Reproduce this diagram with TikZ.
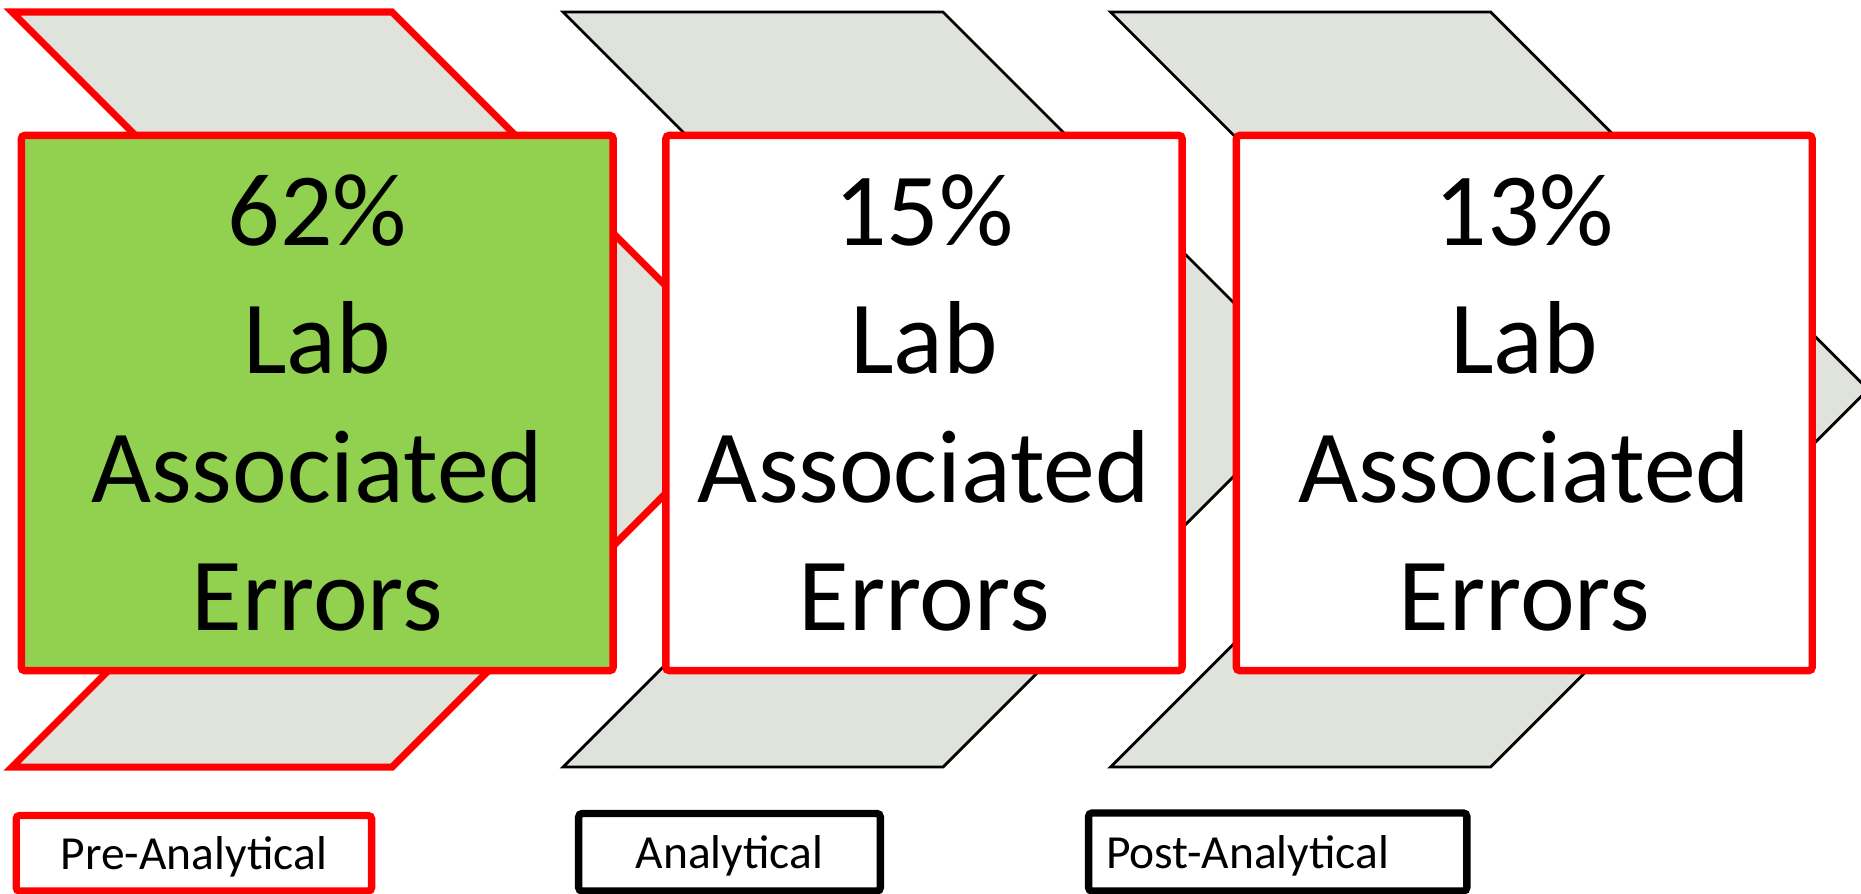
\documentclass[tikz,border=0pt]{standalone}
\usepackage{fontspec}
\setmainfont{Carlito}
\definecolor{chevgray}{RGB}{224,227,219}
\definecolor{boxgreen}{RGB}{146,208,80}
\definecolor{errred}{RGB}{255,0,0}

\begin{document}
\begin{tikzpicture}[x=0.01cm, y=-0.01cm,
  chev/.style={fill=chevgray, draw=black, line width=0.8pt, line join=miter},
  chevhl/.style={chev, draw=errred, line width=2pt},
  statbox/.style={draw=errred, line width=2.1pt, fill=white, rounded corners=1pt,
    inner sep=0pt, align=center, font=\fontsize{29.5}{36.5}\selectfont},
  phasetag/.style={draw=black, line width=2.1pt, fill=white, rounded corners=1pt,
    inner sep=0pt, font=\fontsize{13.5}{16}\selectfont, text depth=0pt},
]
\useasboundingbox (0,0) rectangle (1861,893);

% process chevrons (drawn first, the boxes sit on top)
\draw[chevhl] (12,12) -- (392,12) -- (769.5,389.5) -- (392,767) -- (12,767) -- (389.5,389.5) -- cycle;
\draw[chev] (563,12) -- (943,12) -- (1320.5,389.5) -- (943,767) -- (563,767) -- (940.5,389.5) -- cycle;
\draw[chev] (1110.5,12) -- (1490.5,12) -- (1868,389.5) -- (1490.5,767) -- (1110.5,767) -- (1488,389.5) -- cycle;

% share of errors per phase
\node[statbox, fill=boxgreen, minimum width=5.915cm, minimum height=5.35cm] (prebox) at (317.25,403)
  {62\%\\Lab\\Associated\\Errors};
\node[statbox, minimum width=5.16cm, minimum height=5.35cm] (anabox) at (924,403)
  {15\%\\Lab\\Associated\\Errors};
\node[statbox, minimum width=5.755cm, minimum height=5.35cm] (postbox) at (1524.25,403)
  {13\%\\Lab\\Associated\\Errors};

% phase labels
\node[phasetag, draw=errred, minimum width=3.552cm, minimum height=0.755cm] (pretag) at (193.9,853.25)
  {Pre-Analytical};
\node[phasetag, minimum width=3.015cm, minimum height=0.775cm] (anatag) at (729.5,852.25)
  {Analytical};
\node[phasetag, text width=3.43cm, inner xsep=0.175cm, minimum height=0.78cm, align=left] (posttag) at (1277.7,852)
  {Post-Analytical};
\end{tikzpicture}
\end{document}
